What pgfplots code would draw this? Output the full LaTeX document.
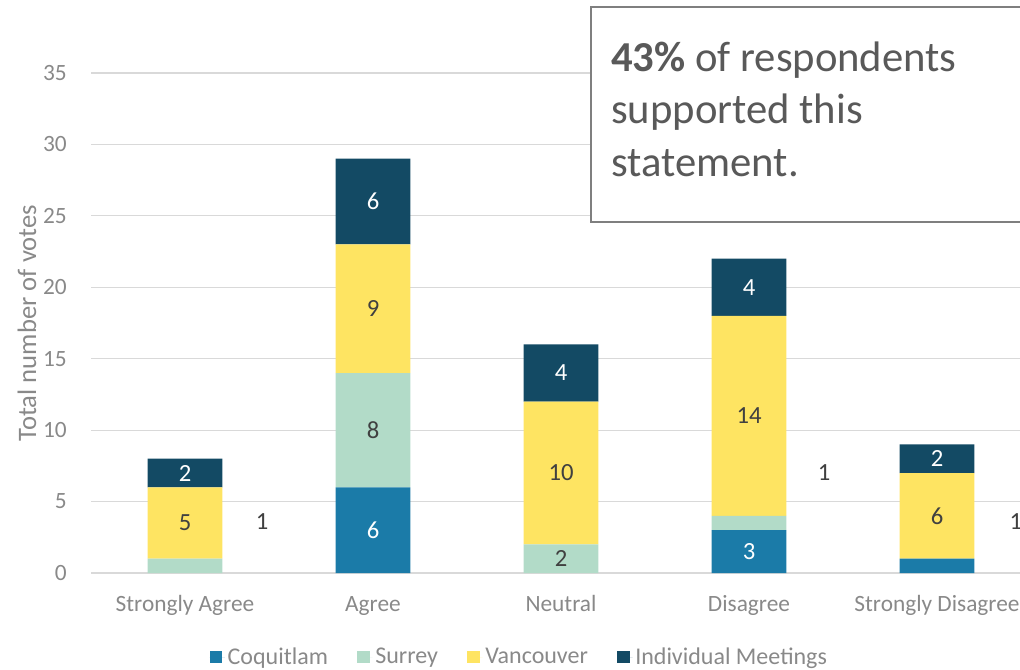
\documentclass[border=0pt]{standalone}
\usepackage{pgfplots}
\pgfplotsset{compat=1.18}
\usepackage{pgfplotstable}
\usepackage{fontspec}
\setmainfont{Carlito}
\definecolor{coq}{HTML}{1B7BA8}
\definecolor{sur}{HTML}{B2DBC8}
\definecolor{van}{HTML}{FEE462}
\definecolor{ind}{HTML}{134A64}
\definecolor{axtext}{HTML}{898989}
\definecolor{lbl}{HTML}{404040}
\definecolor{gridc}{HTML}{D9D9D9}
\definecolor{boxtext}{HTML}{595959}
\definecolor{boxline}{HTML}{7F7F7F}

\pgfplotstableread{
x coq sur van ind
0 0 1 5 2
1 6 8 9 6
2 0 2 10 4
3 3 1 14 4
4 1 0 6 2
}\votes

\begin{document}
\begin{tikzpicture}
\useasboundingbox (0,0) rectangle (765pt,501.75pt);
\clip (0,0) rectangle (765pt,501.75pt);
\begin{axis}[
  at={(68.25pt,72pt)}, anchor=south west,
  scale only axis, width=705pt, height=375pt,
  xmin=-0.5, xmax=4.5, ymin=0, ymax=35,
  ybar stacked, bar width=56pt,
  axis line style={draw=none},
  major tick length=0pt,
  ytick={0,5,...,35},
  xtick={0,1,2,3,4},
  xticklabels={Strongly Agree, Agree, Neutral, Disagree, Strongly Disagree},
  ymajorgrids, grid style={gridc, line width=0.9pt},
  tick label style={font=\fontsize{17.5}{21}\selectfont, text=axtext},
  /pgf/number format/assume math mode=true,
  xticklabel style={anchor=base, yshift=-28.5pt},
  yticklabel style={anchor=east, inner sep=0pt, xshift=-18pt},
  ylabel={Total number of votes},
  ylabel style={at={(axis description cs:-0.0681,0.5)}, anchor=center, font=\fontsize{20}{24}\selectfont, text=axtext},
  legend columns=4,
  legend style={draw=none, fill=none, at={(0.456,-0.168)}, anchor=center,
    font=\fontsize{18}{22}\selectfont, text=axtext,
    /tikz/every even column/.append style={column sep=20pt}},
  legend image code/.code={\fill[#1] (0pt,-4.75pt) rectangle (9.5pt,4.75pt); \path (0pt,0pt) -- (11.5pt,0pt);},
]
\addplot[fill=coq, draw=none] table[x=x, y=coq] {\votes};
\addplot[fill=sur, draw=none] table[x=x, y=sur] {\votes};
\addplot[fill=van, draw=none] table[x=x, y=van] {\votes};
\addplot[fill=ind, draw=none] table[x=x, y=ind] {\votes};
\legend{Coquitlam, Surrey, Vancouver, Individual Meetings}
\end{axis}
\begin{axis}[
  at={(68.25pt,72pt)}, anchor=south west,
  scale only axis, width=705pt, height=375pt,
  xmin=-0.5, xmax=4.5, ymin=0, ymax=35,
  hide axis, clip=false,
  point meta=explicit symbolic,
  nodes near coords, nodes near coords align={center},
]
\addplot[draw=none, mark=none, nodes near coords,
  every node near coord/.append style={text=white, font=\fontsize{18.5}{22}\selectfont}]
  coordinates {(1,3)[6] (3,1.5)[3] (0,7)[2] (1,26)[6] (2,14)[4] (3,20)[4] (4,8)[2]};
\addplot[draw=none, mark=none, nodes near coords,
  every node near coord/.append style={text=lbl, font=\fontsize{18.5}{22}\selectfont}]
  coordinates {(0,3.5)[5] (1,10)[8] (1,18.5)[9] (2,1)[2] (2,7)[10] (3,11)[14] (4,4)[6]
  (0.41,3.57)[1] (3.4,7)[1] (4.42,3.57)[1]};
\end{axis}
\draw[boxline, fill=white, line width=1pt] (443.25pt,335.25pt) rectangle (790pt,496.5pt);
\begin{scope}[every node/.style={anchor=base west, inner sep=0pt, text=boxtext, font=\fontsize{32}{38}\selectfont}]
\node at (458.25pt,447.75pt) {\bfseries 43\%\mdseries{} of respondents};
\node at (458.25pt,408.75pt) {supported this};
\node at (458.25pt,369.75pt) {statement.};
\end{scope}
\end{tikzpicture}
\end{document}
